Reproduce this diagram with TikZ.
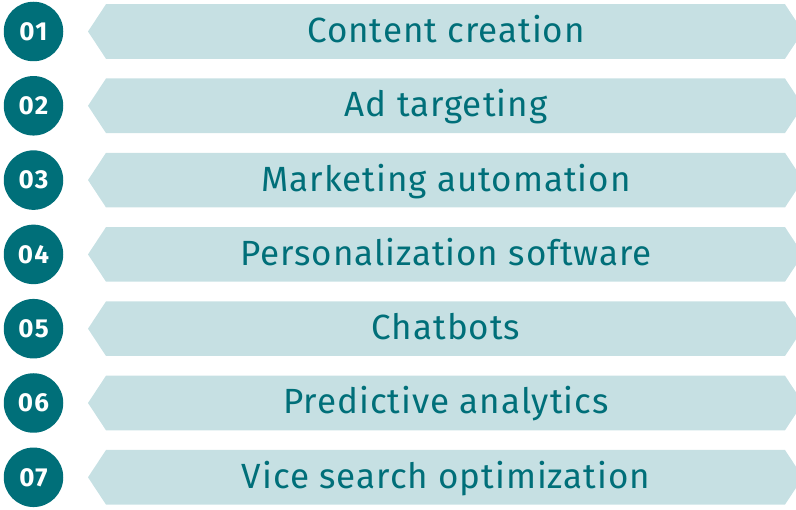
\documentclass[tikz,border=0pt]{standalone}
\usepackage{fontspec}
\setmainfont{Fira Sans}
\newfontfamily\bannerfont[LetterSpace=2.8]{Fira Sans}
\newfontfamily\numfont[LetterSpace=5]{Fira Sans Bold}
\definecolor{darkteal}{HTML}{006F79}
\definecolor{lightteal}{HTML}{C6E0E3}
\tikzset{
  numcircle/.style={circle,fill=darkteal,minimum size=59.5pt,inner sep=0pt,text=white,font=\numfont\fontsize{26}{26}\selectfont},
  bannertext/.style={text=darkteal,inner sep=0pt,font=\bannerfont\fontsize{35}{35}\selectfont,anchor=base}
}
\begin{document}
\begin{tikzpicture}[x=1pt,y=-1pt]
\useasboundingbox (0,0) rectangle (796,510);
\clip (0,0) rectangle (796,510);
\foreach \n/\t [count=\i from 0] in {01/Content creation,02/Ad targeting,03/Marketing automation,04/Personalization software,05/Chatbots,06/Predictive analytics,07/Vice search optimization}{
  \pgfmathsetmacro{\yc}{31.5+74.3*\i}
  \fill[lightteal] (88,\yc) -- (106,\yc-27.3) -- (785,\yc-27.3) -- (803,\yc) -- (785,\yc+27.3) -- (106,\yc+27.3) -- cycle;
  \node[numcircle] (c\n) at (33.5,\yc) {\n};
  \node[bannertext] (t\n) at (446,\yc+11) {\t};
}
\end{tikzpicture}
\end{document}
